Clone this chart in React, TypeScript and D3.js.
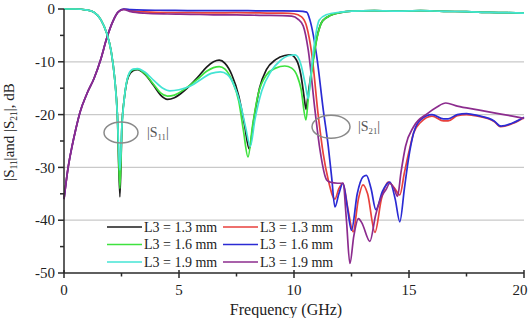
import React, { useEffect, useRef } from 'react';
import * as d3 from 'd3';

type Pt = [number, number];

// |S11| traces, frequency in GHz vs dB
const s11L13: Pt[] = [
  [0, 0], [0.5, 0], [1.0, -0.2], [1.3, -0.6], [1.6, -2], [1.85, -4.5], [2.05, -8], [2.2, -13],
  [2.32, -20], [2.43, -35.6], [2.52, -22], [2.62, -17], [2.8, -12.8], [3.0, -11.7], [3.2, -11.5],
  [3.5, -12.3], [3.9, -14.5], [4.2, -16.3], [4.5, -17.1], [4.8, -16.8], [5.3, -15.2], [5.8, -13],
  [6.2, -11], [6.5, -10], [6.75, -9.7], [7.0, -10.3], [7.3, -12.5], [7.6, -16.5], [7.85, -22],
  [8.05, -26.5], [8.25, -21], [8.5, -15], [8.8, -11.5], [9.2, -9.6], [9.6, -8.8], [9.85, -8.7],
  [10.1, -9.6], [10.3, -12.5], [10.45, -17], [10.52, -19], [10.62, -16], [10.8, -10.5],
  [11.0, -5.3], [11.25, -2.2], [11.6, -1.2], [12.0, -0.7], [12.5, -0.4], [13.5, -0.3],
  [14.5, -0.4], [15.5, -0.3], [16.5, -0.45], [17.5, -0.5], [18.5, -0.65], [19.3, -0.7], [20, -0.8],
];

const s11L16: Pt[] = [
  [0, 0], [0.5, 0], [1.0, -0.2], [1.3, -0.6], [1.6, -2], [1.85, -4.5], [2.05, -8], [2.2, -13],
  [2.32, -20], [2.43, -34], [2.52, -22], [2.62, -17], [2.8, -12.6], [3.0, -11.5], [3.2, -11.4],
  [3.5, -12.2], [3.9, -14.3], [4.2, -15.9], [4.5, -16.5], [4.8, -16.3], [5.3, -15], [5.8, -13.3],
  [6.2, -11.8], [6.5, -11.1], [6.75, -10.9], [7.0, -11.4], [7.3, -13.5], [7.6, -17.5], [7.8, -23],
  [8.0, -28], [8.2, -22], [8.45, -16], [8.8, -12.5], [9.2, -11.2], [9.6, -10.8], [9.9, -11.2],
  [10.15, -12.8], [10.3, -15], [10.52, -21], [10.62, -17], [10.8, -11], [11.0, -5.5],
  [11.25, -2.2], [11.6, -1.2], [12.0, -0.7], [12.5, -0.4], [13.5, -0.3], [14.5, -0.4],
  [15.5, -0.3], [16.5, -0.45], [17.5, -0.5], [18.5, -0.65], [19.3, -0.7], [20, -0.8],
];

const s11L19: Pt[] = [
  [0, 0], [0.5, 0], [1.0, -0.2], [1.3, -0.6], [1.6, -2], [1.85, -4.5], [2.05, -8], [2.2, -13],
  [2.32, -20], [2.43, -30.5], [2.52, -22], [2.62, -17], [2.8, -12.5], [3.0, -11.4], [3.2, -11.3],
  [3.5, -11.9], [3.9, -13.5], [4.3, -15], [4.6, -15.5], [5.0, -15.3], [5.5, -14.6], [6.0, -13.2],
  [6.4, -12.2], [6.8, -11.9], [7.1, -12.4], [7.4, -14.5], [7.7, -18.5], [7.9, -22.5], [8.1, -26],
  [8.3, -21], [8.6, -15.5], [9.0, -11.8], [9.4, -9.8], [9.8, -8.8], [10.05, -8.7], [10.3, -10.5],
  [10.5, -14.5], [10.62, -17], [10.72, -13], [10.85, -7.8], [11.1, -2.1], [11.4, -1.1],
  [12.0, -0.6], [12.5, -0.4], [13.5, -0.3], [14.5, -0.4], [15.5, -0.3], [16.5, -0.45],
  [17.5, -0.5], [18.5, -0.65], [19.3, -0.7], [20, -0.8],
];

// |S21| traces
const s21L13: Pt[] = [
  [0, -36], [0.18, -30], [0.35, -26], [0.5, -23], [0.7, -19.5], [1.0, -16], [1.3, -13.2],
  [1.6, -9.5], [1.86, -5.5], [2.14, -2.2], [2.35, -0.6], [2.6, 0], [2.9, -0.3], [3.5, -0.55],
  [4.5, -0.7], [5.5, -0.7], [6.5, -0.75], [7.5, -0.7], [8.5, -0.75], [9.5, -0.8], [10.0, -0.9],
  [10.33, -1.5], [10.55, -3.3], [10.77, -8.4], [11.06, -20.4], [11.27, -27.4], [11.49, -32.4],
  [11.78, -36], [11.95, -34], [12.13, -33], [12.35, -38], [12.57, -42.2], [12.8, -36],
  [13.0, -33.3], [13.2, -35], [13.52, -42.3], [13.8, -36], [14.1, -32.8], [14.35, -33.8],
  [14.6, -35.2], [14.8, -31], [15.0, -27], [15.2, -23.5], [15.5, -21.5], [16.0, -20.3],
  [16.5, -21.2], [16.7, -21.2], [17.1, -20.2], [17.5, -20], [18.0, -20.3], [18.7, -21.3],
  [19.0, -22.3], [19.5, -21.7], [20, -20.6],
];

const s21L16: Pt[] = [
  [0, -36], [0.18, -30], [0.35, -26], [0.5, -23], [0.7, -19.5], [1.0, -16], [1.3, -13.2],
  [1.6, -9.5], [1.86, -5.5], [2.14, -2.2], [2.35, -0.6], [2.6, 0], [2.9, -0.1], [3.5, -0.2],
  [4.5, -0.25], [5.5, -0.3], [6.5, -0.3], [7.5, -0.3], [8.5, -0.35], [9.5, -0.35], [10.2, -0.4],
  [10.55, -0.6], [10.7, -2.2], [10.99, -9], [11.27, -19], [11.49, -26], [11.64, -32],
  [11.78, -37.5], [11.95, -35], [12.13, -33], [12.3, -37], [12.5, -41.9], [12.75, -35],
  [13.0, -31.8], [13.15, -31.5], [13.35, -34], [13.56, -38], [13.85, -34.5], [14.17, -32.8],
  [14.4, -36], [14.6, -40.3], [14.8, -34], [14.97, -28.6], [15.2, -23.5], [15.5, -21],
  [16.0, -20], [16.5, -20.8], [16.7, -20.8], [17.1, -20], [17.5, -19.8], [18.0, -20.2],
  [18.7, -21.2], [19.0, -22.2], [19.5, -21.6], [20, -20.5],
];

const s21L19: Pt[] = [
  [0, -36], [0.18, -30], [0.35, -26], [0.5, -23], [0.7, -19.5], [1.0, -16], [1.3, -13.2],
  [1.6, -9.5], [1.86, -5.5], [2.14, -2.2], [2.35, -0.6], [2.6, -0.1], [2.9, -0.5], [3.5, -0.8],
  [4.5, -0.95], [5.5, -1.0], [6.5, -1.1], [7.5, -1.1], [8.5, -1.2], [9.5, -1.25], [9.9, -1.35],
  [10.17, -1.9], [10.4, -3.2], [10.62, -7.8], [10.91, -19.1], [11.13, -26.7], [11.42, -32.4],
  [11.57, -32.8], [11.9, -33], [12.13, -33], [12.28, -40], [12.43, -48.2], [12.6, -43],
  [12.8, -39.7], [12.95, -40.5], [13.3, -44], [13.55, -39], [13.8, -35.6], [14.0, -34.2],
  [14.17, -33], [14.35, -34], [14.5, -35.5], [14.65, -31], [14.85, -26], [15.2, -22.3],
  [15.8, -19.8], [16.2, -18.6], [16.6, -17.8], [17.1, -18.4], [18.0, -19.1], [19.0, -19.9],
  [20, -20.7],
];

const xTicks = [0, 5, 10, 15, 20];
const xMinor = [2.5, 7.5, 12.5, 17.5];
const yTicks = [0, -10, -20, -30, -40, -50];
const yMinor = [-5, -15, -25, -35, -45];
const gridLines = [-10, -20, -30, -40];

const series = [
  { label: '1.3', data: s21L13, color: '#e8413c', col: 1, row: 0 },
  { label: '1.6', data: s21L16, color: '#2b2bd4', col: 1, row: 1 },
  { label: '1.9', data: s21L19, color: '#8c2c8e', col: 1, row: 2 },
  { label: '1.3', data: s11L13, color: '#1b1b1b', col: 0, row: 0 },
  { label: '1.6', data: s11L16, color: '#3ee23e', col: 0, row: 1 },
  { label: '1.9', data: s11L19, color: '#44e4d4', col: 0, row: 2 },
];

const W = 529;
const H = 318;
const FONT = '"Liberation Serif", "Times New Roman", serif';

const SParamChart = () => {
  const svgRef = useRef<SVGSVGElement>(null);

  useEffect(() => {
    const svg = d3.select(svgRef.current);
    svg.selectAll('*').remove();

    const x = d3.scaleLinear().domain([0, 20]).range([64, 524]);
    const y = d3.scaleLinear().domain([-50, 0]).range([273, 9]);

    // horizontal grid
    svg.append('g')
      .selectAll('line')
      .data(gridLines)
      .enter()
      .append('line')
      .attr('x1', x(0))
      .attr('x2', x(20))
      .attr('y1', d => y(d))
      .attr('y2', d => y(d))
      .attr('stroke', '#c9c9c9')
      .attr('stroke-width', 1.2);

    // traces
    const line = d3.line<Pt>()
      .x(d => x(d[0]))
      .y(d => y(d[1]))
      .curve(d3.curveMonotoneX);

    svg.append('g')
      .selectAll('path')
      .data(series)
      .enter()
      .append('path')
      .attr('d', d => line(d.data))
      .attr('fill', 'none')
      .attr('stroke', d => d.color)
      .attr('stroke-width', 1.7)
      .attr('stroke-linejoin', 'round');

    // axes
    const axis = svg.append('g').attr('stroke', '#2a2a2a').attr('stroke-width', 1.5);
    axis.append('line')
      .attr('x1', x(0)).attr('x2', x(0)).attr('y1', y(0)).attr('y2', y(-50));
    axis.append('line')
      .attr('x1', x(0)).attr('x2', x(20)).attr('y1', y(-50)).attr('y2', y(-50));

    axis.selectAll('.xmaj')
      .data(xTicks)
      .enter()
      .append('line')
      .attr('x1', d => x(d)).attr('x2', d => x(d))
      .attr('y1', y(-50) - 3).attr('y2', y(-50) + 5);
    axis.selectAll('.xmin')
      .data(xMinor)
      .enter()
      .append('line')
      .attr('x1', d => x(d)).attr('x2', d => x(d))
      .attr('y1', y(-50)).attr('y2', y(-50) + 3.5);
    axis.selectAll('.ymaj')
      .data(yTicks)
      .enter()
      .append('line')
      .attr('x1', x(0) - 6).attr('x2', x(0))
      .attr('y1', d => y(d)).attr('y2', d => y(d));
    axis.selectAll('.ymin')
      .data(yMinor)
      .enter()
      .append('line')
      .attr('x1', x(0) - 4).attr('x2', x(0))
      .attr('y1', d => y(d)).attr('y2', d => y(d));

    const labels = svg.append('g')
      .attr('font-family', FONT)
      .attr('fill', '#222');

    // last x label sits against the right edge
    labels.selectAll('.xl')
      .data(xTicks)
      .enter()
      .append('text')
      .attr('x', d => Math.min(x(d), W - 9))
      .attr('y', 295)
      .attr('text-anchor', 'middle')
      .attr('font-size', 15)
      .text(d => d);

    labels.selectAll('.yl')
      .data(yTicks)
      .enter()
      .append('text')
      .attr('x', 55)
      .attr('y', d => y(d))
      .attr('dy', '0.35em')
      .attr('text-anchor', 'end')
      .attr('font-size', 15)
      .text(d => d);

    labels.append('text')
      .attr('x', 286)
      .attr('y', 315)
      .attr('text-anchor', 'middle')
      .attr('font-size', 16)
      .text('Frequency (GHz)');

    // |S11| and |S21| with subscripts
    const withSub = (
      t: d3.Selection<SVGTextElement, unknown, null, undefined>,
      parts: [string, boolean][],
      size: number,
    ) => {
      parts.forEach(([s, sub], i) => {
        const span = t.append('tspan').text(s);
        if (sub) span.attr('font-size', size * 0.62).attr('dy', size * 0.22);
        else if (i > 0 && parts[i - 1][1]) span.attr('dy', -size * 0.22);
      });
    };

    const yTitle = labels.append('text')
      .attr('transform', 'translate(14,132) rotate(-90)')
      .attr('text-anchor', 'middle')
      .attr('font-size', 15);
    withSub(yTitle as any, [
      ['|S', false], ['11', true], ['|and |S', false], ['21', true], ['|, dB', false],
    ], 15);

    // ellipse call-outs
    const notes = [
      { cx: 121, cy: 132.5, rx: 17, ry: 10.5, tx: 147, sub: '11' },
      { cx: 331, cy: 126.7, rx: 19, ry: 11.5, tx: 358, sub: '21' },
    ];
    notes.forEach(n => {
      svg.append('ellipse')
        .attr('cx', n.cx).attr('cy', n.cy).attr('rx', n.rx).attr('ry', n.ry)
        .attr('fill', 'none')
        .attr('stroke', '#8a8a8a')
        .attr('stroke-width', 1.5);
      const t = svg.append('text')
        .attr('x', n.tx)
        .attr('y', n.cy + 4)
        .attr('font-family', FONT)
        .attr('font-size', 14)
        .attr('fill', '#555');
      withSub(t as any, [['|S', false], [n.sub, true], ['|', false]], 14);
    });

    // legend, two columns of three
    const legX = [107, 223];
    const legY = [227, 244.5, 262];
    const leg = svg.append('g')
      .selectAll('g')
      .data(series)
      .enter()
      .append('g')
      .attr('transform', d => `translate(${legX[d.col]},${legY[d.row]})`);
    leg.append('line')
      .attr('x1', 0).attr('x2', 35)
      .attr('stroke', d => d.color)
      .attr('stroke-width', 1.7);
    leg.append('text')
      .attr('x', 37)
      .attr('dy', '0.35em')
      .attr('font-family', FONT)
      .attr('font-size', 14)
      .attr('fill', '#222')
      .text(d => `L3 = ${d.label} mm`);
  }, []);

  return <svg ref={svgRef} width={W} height={H} style={{ display: 'block', background: '#fff' }} />;
};

export default function App() {
  useEffect(() => {
    document.body.style.margin = '0';
  }, []);
  return (
    <div style={{ position: 'absolute', left: 0, top: 0 }}>
      <SParamChart />
    </div>
  );
}
